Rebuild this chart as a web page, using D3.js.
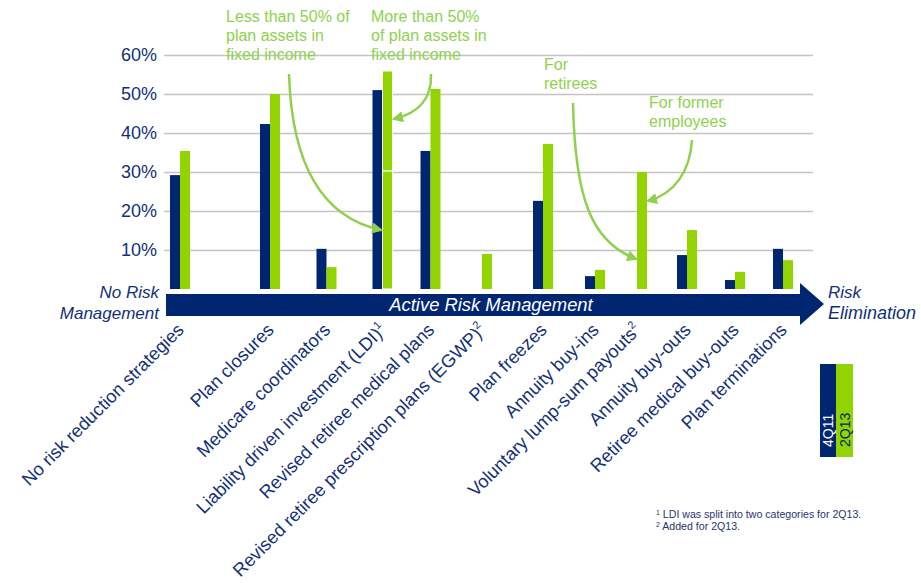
<!DOCTYPE html>
<html lang="en">
<head>
<meta charset="UTF-8">
<title>Risk management strategies</title>
<script src="https://d3js.org/d3.v7.min.js"></script>
<style>
  body { margin: 0; background: #fff; }
  text { font-family: "Liberation Sans", Arial, sans-serif; }
</style>
</head>
<body>
<div id="graph"></div>
<script>
// ---- data ----
var categories = ["No risk reduction strategies", "Plan closures", "Medicare coordinators",
  "Liability driven  investment (LDI)", "Revised retiree medical plans",
  "Revised retiree prescription plans (EGWP)", "Plan freezes", "Annuity buy-ins",
  "Voluntary lump-sum payouts", "Annuity buy-outs", "Retiree medical buy-outs", "Plan terminations"];
var labelNotes = ["", "", "", "1", "", "2", "", "", "2", "", "", ""];
var series = ["4Q11", "2Q13"];
var values4Q11 = [29.2, 42.3, 10.3, 51.0, 35.4, null, 22.6, 3.3, null, 8.7, 2.3, 10.3];
var values2Q13 = [35.4, 50.0, 5.6, null, 51.3, 9.0, 37.2, 4.9, 30.0, 15.1, 4.4, 7.4];
// LDI in 2Q13 was split in two (stacked): less than / more than 50% in fixed income
var ldiSplit2Q13 = [30.3, 25.6];
var yTicks = [10, 20, 30, 40, 50, 60];
var footnotes = [["1", "LDI was split into two categories for 2Q13."], ["2", "Added for 2Q13."]];

var navy = "#002672", green = "#92d400", noteGreen = "#8fd14f", textNavy = "#12307a";

var width = 921, height = 583;
var svg = d3.select("#graph").append("svg")
  .attr("width", width).attr("height", height);

// uneven category spacing, as in the original slide
var x = d3.scaleOrdinal()
  .domain(categories)
  .range([180, 270, 326.5, 382.5, 430.5, 482, 543, 595, 637, 687, 735, 783]);
var xs = d3.scaleBand().domain(series).range([-10, 10]);
var y = d3.scaleLinear().domain([0, 60]).range([289, 55]);

// y axis + gridlines
var yAxis = d3.axisLeft(y)
  .tickValues(yTicks)
  .tickFormat(function (d) { return d + "%"; })
  .tickSize(-(813 - 164))
  .tickPadding(7);
var ga = svg.append("g").attr("transform", "translate(164,0)").call(yAxis);
ga.select(".domain").remove();
ga.selectAll(".tick line").attr("stroke", "#c4c4c4").attr("stroke-width", 1.6);
ga.selectAll(".tick text").attr("fill", textNavy).style("font-size", "18px");

// bars
var rows = categories.map(function (c, i) { return { cat: c, a: values4Q11[i], b: values2Q13[i] }; });
svg.append("g").selectAll("rect")
  .data(rows.filter(function (d) { return d.a != null; }))
  .enter().append("rect")
  .attr("x", function (d) { return x(d.cat) + xs("4Q11"); })
  .attr("width", xs.bandwidth())
  .attr("y", function (d) { return y(d.a); })
  .attr("height", function (d) { return y(0) - y(d.a); })
  .attr("fill", navy);
svg.append("g").selectAll("rect")
  .data(rows.filter(function (d) { return d.b != null; }))
  .enter().append("rect")
  .attr("x", function (d) { return x(d.cat) + xs("2Q13"); })
  .attr("width", xs.bandwidth())
  .attr("y", function (d) { return y(d.b); })
  .attr("height", function (d) { return y(0) - y(d.b); })
  .attr("fill", green);

// stacked LDI bar
var ldiCat = categories[3];
var cum = 0;
var ldiSegs = ldiSplit2Q13.map(function (v) { var s = { y0: cum, y1: cum + v }; cum += v; return s; });
svg.append("g").selectAll("rect")
  .data(ldiSegs)
  .enter().append("rect")
  .attr("x", x(ldiCat) + xs("2Q13"))
  .attr("width", xs.bandwidth())
  .attr("y", function (d) { return y(d.y1); })
  .attr("height", function (d) { return y(d.y0) - y(d.y1); })
  .attr("fill", green)
  .attr("stroke", "#fff")
  .attr("stroke-width", 1);

// big arrow band
svg.append("path")
  .attr("d", "M166,294 L800,294 L800,283 L824,304 L800,325 L800,316 L166,316 Z")
  .attr("fill", navy);
svg.append("text").attr("x", 491).attr("y", 311)
  .attr("text-anchor", "middle").attr("fill", "#fff")
  .style("font-size", "18.4px").style("font-style", "italic")
  .text("Active Risk Management");

var ends = svg.append("g").attr("fill", textNavy)
  .style("font-size", "17px").style("font-style", "italic");
ends.append("text").attr("x", 159).attr("y", 298).attr("text-anchor", "end").text("No Risk");
ends.append("text").attr("x", 159).attr("y", 319).attr("text-anchor", "end").text("Management");
ends.append("text").attr("x", 828).attr("y", 298).text("Risk");
ends.append("text").attr("x", 828).attr("y", 319).style("font-size", "18px").text("Elimination");

// rotated category labels
var labels = svg.append("g").selectAll("text")
  .data(categories)
  .enter().append("text")
  .attr("transform", function (d) { return "translate(" + (x(d) + 5) + ",331) rotate(-45)"; })
  .attr("text-anchor", "end")
  .attr("fill", textNavy)
  .style("font-size", "18.2px");
labels.append("tspan").text(function (d) { return d; });
labels.append("tspan")
  .attr("dy", -8)
  .style("font-size", "11px")
  .text(function (d, i) { return labelNotes[i]; });

// annotations
var notes = svg.append("g").attr("fill", noteGreen).style("font-size", "16px");
[[226, ["Less than 50% of", "plan assets in", "fixed income"]],
 [371, ["More than 50%", "of plan assets in", "fixed income"]],
 [544, ["For", "retirees"]],
 [649, ["For former", "employees"]]].forEach(function (n, k) {
  var top = k === 2 ? 70 : (k === 3 ? 108 : 22);
  n[1].forEach(function (line, j) {
    notes.append("text").attr("x", n[0]).attr("y", top + j * 19).text(line);
  });
});

var defs = svg.append("defs");
defs.append("marker").attr("id", "ah")
  .attr("viewBox", "0 0 10 10").attr("refX", 8).attr("refY", 5)
  .attr("markerWidth", 4.5).attr("markerHeight", 4.5).attr("orient", "auto")
  .append("path").attr("d", "M0,0 L10,5 L0,10 Z").attr("fill", noteGreen);

var arrows = [
  "M289,74 C292,170 325,218 381,230",
  "M431,74 C432,100 418,113 394,119",
  "M573,103 C575,200 592,242 636,259",
  "M692,140 C690,172 674,194 648,201"
];
svg.append("g").selectAll("path")
  .data(arrows).enter().append("path")
  .attr("d", function (d) { return d; })
  .attr("fill", "none").attr("stroke", noteGreen).attr("stroke-width", 2.5)
  .attr("marker-end", "url(#ah)");

// legend
var leg = svg.append("g");
leg.append("rect").attr("x", 820).attr("y", 364).attr("width", 16).attr("height", 93).attr("fill", navy);
leg.append("rect").attr("x", 836).attr("y", 364).attr("width", 17).attr("height", 93).attr("fill", green);
leg.append("text").attr("transform", "translate(833,447) rotate(-90)")
  .attr("fill", "#fff").style("font-size", "14px").text(series[0]);
leg.append("text").attr("transform", "translate(850,447) rotate(-90)")
  .attr("fill", navy).style("font-size", "14px").text(series[1]);

// footnotes
var fn = svg.append("g").attr("fill", "#1f3470").style("font-size", "10.6px");
footnotes.forEach(function (f, i) {
  var t = fn.append("text").attr("x", 656).attr("y", 518 + i * 12);
  t.append("tspan").attr("dy", -3).style("font-size", "7px").text(f[0]);
  t.append("tspan").attr("dy", 3).text(" " + f[1]);
});
</script>
</body>
</html>
